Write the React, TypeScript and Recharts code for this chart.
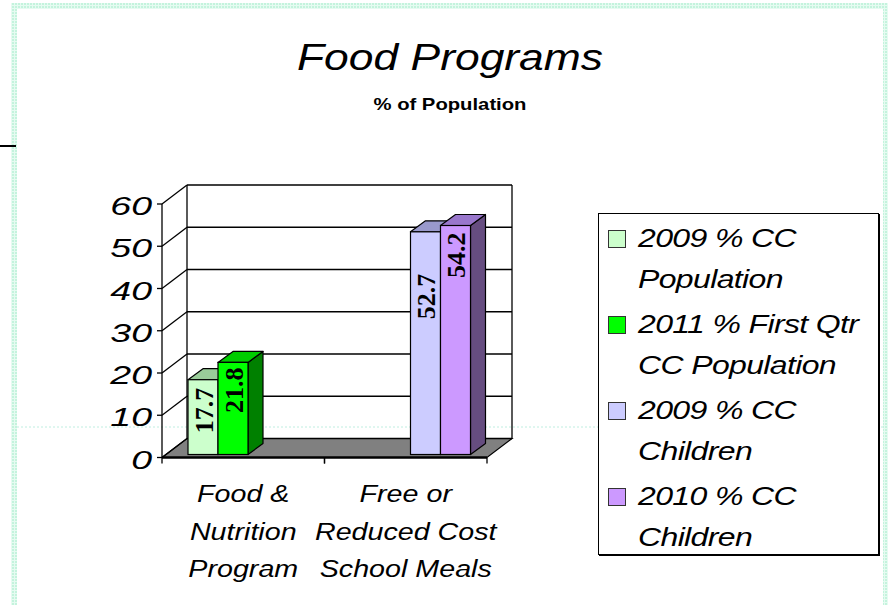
import React from "react";
import { BarChart, Bar, XAxis, YAxis, CartesianGrid, Legend, LabelList } from "recharts";

// ---------- data ----------
const categories = ["Food & Nutrition Program", "Free or Reduced Cost School Meals"];
const categoryLabelLines = [
  ["Food &", "Nutrition", "Program"],
  ["Free or", "Reduced Cost", "School Meals"],
];
const seriesNames = [
  "2009 % CC Population",
  "2011 % First Qtr CC Population",
  "2009 % CC Children",
  "2010 % CC Children",
];
const population2009 = [17.7, null];
const population2011Q1 = [21.8, null];
const children2009 = [null, 52.7];
const children2010 = [null, 54.2];
const yTicks = [0, 10, 20, 30, 40, 50, 60];

const seriesValues = [population2009, population2011Q1, children2009, children2010];
const seriesKeys = ["s0", "s1", "s2", "s3"];
const data = categories.map((name, i) => {
  const row: any = { name };
  seriesKeys.forEach((k, j) => {
    row[k] = seriesValues[j][i];
  });
  return row;
});

// ---------- styles / layout ----------
const seriesColors = [
  { front: "#CCFFCC", top: "#99CC99", side: "#669966" },
  { front: "#00FF00", top: "#00CC00", side: "#008000" },
  { front: "#CCCCFF", top: "#9999CC", side: "#666699" },
  { front: "#CC99FF", top: "#9977CC", side: "#664D80" },
];
const labelInset = [8, 5, 42, 7];

const W = 888;
const H = 605;
const PLOT = { left: 162, right: 487, top: 204, bottom: 457.5 };
const Y_AXIS_W = 60;
const X_AXIS_H = 130;
const WALL_DX = 25;
const WALL_DY = 19;
const BAR_DX = 4;
const BAR_DY = 3;
const BAR_DEPTH_X = 15;
const BAR_DEPTH_Y = 11;
const HALF_BAND = (PLOT.right - PLOT.left) / categories.length / 2;
const FONT = "'Liberation Sans', Arial, sans-serif";
const SERIF = "'Liberation Serif', 'Times New Roman', serif";

const makeBarShape = (si: number) => (props: any) => {
  const { x, y, width, height } = props;
  if (height == null || !(height > 0.5) || x == null) return <g />;
  const c = seriesColors[si];
  const fx = x + BAR_DX;
  const fy = y - BAR_DY;
  const w = width;
  const h = height;
  const top = `${fx},${fy} ${fx + BAR_DEPTH_X},${fy - BAR_DEPTH_Y} ${fx + w + BAR_DEPTH_X},${fy - BAR_DEPTH_Y} ${fx + w},${fy}`;
  const side = `${fx + w},${fy} ${fx + w + BAR_DEPTH_X},${fy - BAR_DEPTH_Y} ${fx + w + BAR_DEPTH_X},${fy + h - BAR_DEPTH_Y} ${fx + w},${fy + h}`;
  return (
    <g>
      <polygon points={side} fill={c.side} stroke="#000" strokeWidth={1.2} strokeLinejoin="round" />
      <polygon points={top} fill={c.top} stroke="#000" strokeWidth={1.2} strokeLinejoin="round" />
      <rect x={fx} y={fy} width={w} height={h} fill={c.front} stroke="#000" strokeWidth={1.2} />
    </g>
  );
};

const makeLabel = (si: number) => (props: any) => {
  const vb = props.viewBox && props.x == null ? props.viewBox : props;
  const { x, y, width } = vb;
  const value = props.value;
  if (value == null || x == null) return null;
  const cx = x + BAR_DX + width / 2 + 9.5;
  const ty = y - BAR_DY + labelInset[si];
  return (
    <text
      transform={`translate(${cx},${ty}) rotate(-90)`}
      textAnchor="end"
      fontFamily={SERIF}
      fontWeight="bold"
      fontSize={26}
      fill="#000"
    >
      {value}
    </text>
  );
};

const YTick = (props: any) => {
  const { x, y, payload } = props;
  return (
    <g>
      <line x1={x - 5} y1={y} x2={x} y2={y} stroke="#000" strokeWidth={1.3} />
      <text
        transform={`translate(${x - 10},${y + 11}) scale(1.5,1)`}
        textAnchor="end"
        fontFamily={FONT}
        fontStyle="italic"
        fontSize={25}
        fill="#000"
      >
        {payload.value}
      </text>
    </g>
  );
};

const XTick = (props: any) => {
  const { x, y, index, payload } = props;
  const lines = categoryLabelLines[index] ?? [String(payload?.value ?? "")];
  const baselines = [44.5, 82, 119.5];
  return (
    <g>
      <line x1={x - HALF_BAND} y1={y} x2={x - HALF_BAND} y2={y + 6} stroke="#000" strokeWidth={1.3} />
      <line x1={x + HALF_BAND} y1={y} x2={x + HALF_BAND} y2={y + 6} stroke="#000" strokeWidth={1.3} />
      {lines.map((ln: string, i: number) => (
        <text
          key={i}
          transform={`translate(${x},${y + baselines[i]}) scale(1.22,1)`}
          textAnchor="middle"
          fontFamily={FONT}
          fontStyle="italic"
          fontSize={23.5}
          fill="#000"
        >
          {ln}
        </text>
      ))}
    </g>
  );
};

const renderGridLine = (props: any) => {
  const { x1, x2, y1, index } = props;
  let top: number;
  let bottom: number;
  if (typeof props.y === "number" && typeof props.height === "number") {
    top = props.y;
    bottom = props.y + props.height;
  } else if (Array.isArray(props.horizontalPoints) && props.horizontalPoints.length) {
    top = Math.min(...props.horizontalPoints);
    bottom = Math.max(...props.horizontalPoints);
  } else {
    top = PLOT.top;
    bottom = PLOT.bottom;
  }
  const isBottom = Math.abs(y1 - bottom) < 0.75;
  return (
    <g key={`gl-${index}`}>
      {isBottom && (
        <g>
          <polygon
            points={`${x1},${bottom} ${x2},${bottom} ${x2 + WALL_DX},${bottom - WALL_DY} ${x1 + WALL_DX},${bottom - WALL_DY}`}
            fill="#808080"
            stroke="#000"
            strokeWidth={1.2}
          />
          <line x1={x1 + WALL_DX} y1={top - WALL_DY} x2={x1 + WALL_DX} y2={bottom - WALL_DY} stroke="#000" strokeWidth={1.3} />
          <line x1={x2 + WALL_DX} y1={top - WALL_DY} x2={x2 + WALL_DX} y2={bottom - WALL_DY} stroke="#000" strokeWidth={1.3} />
          <line x1={x1} y1={top} x2={x1} y2={bottom} stroke="#000" strokeWidth={1.3} />
          <line x1={x1} y1={bottom} x2={x2} y2={bottom} stroke="#000" strokeWidth={2.5} />
        </g>
      )}
      <line x1={x1 + WALL_DX} y1={y1 - WALL_DY} x2={x2 + WALL_DX} y2={y1 - WALL_DY} stroke="#000" strokeWidth={1.3} />
      <line x1={x1} y1={y1} x2={x1 + WALL_DX} y2={y1 - WALL_DY} stroke="#000" strokeWidth={1.3} />
    </g>
  );
};

const LegendContent = (props: any) => {
  const payload: any[] = [...(props.payload ?? [])];
  payload.sort((a, b) => seriesNames.indexOf(a.value) - seriesNames.indexOf(b.value));
  return (
    <div
      style={{
        boxSizing: "border-box",
        width: 281,
        height: 342,
        border: "1px solid #000",
        boxShadow: "1px 1px 0 #000",
        background: "#fff",
        paddingTop: 4,
        position: "relative",
      }}
    >
      {payload.map((p, i) => {
        const si = seriesNames.indexOf(p.value);
        const color = si >= 0 ? seriesColors[si].front : p.color;
        return (
          <div key={i} style={{ position: "relative", height: 86 }}>
            <div
              style={{
                position: "absolute",
                left: 9,
                top: 11.5,
                width: 16,
                height: 16,
                background: color,
                border: "1px solid #333",
              }}
            />
            <div
              style={{
                position: "absolute",
                left: 39,
                top: 0,
                width: 188,
                fontFamily: FONT,
                fontStyle: "italic",
                fontSize: 25,
                lineHeight: "41px",
                letterSpacing: "-0.5px",
                transform: "scaleX(1.28)",
                transformOrigin: "left top",
                color: "#000",
                textAlign: "left",
              }}
            >
              {p.value}
            </div>
          </div>
        );
      })}
    </div>
  );
};

export default function App() {
  return (
    <div style={{ position: "absolute", left: 0, top: 0, width: W, height: H, background: "#fff", overflow: "hidden" }}>
      <svg width={W} height={H} style={{ position: "absolute", left: 0, top: 0 }}>
        <defs>
          <pattern id="mint" width="3" height="3" patternUnits="userSpaceOnUse">
            <rect width="3" height="3" fill="#e6fbf1" />
            <rect width="2" height="2" fill="#c4f3dd" />
          </pattern>
        </defs>
        {/* slide frame */}
        <rect x={11} y={3} width={W - 11} height={6} fill="url(#mint)" />
        <rect x={11} y={3} width={6} height={H - 3} fill="url(#mint)" />
        <rect x={883} y={3} width={5} height={H - 3} fill="url(#mint)" />
        <line x1={17} y1={427} x2={883} y2={427} stroke="#bfeee0" strokeWidth={1} strokeDasharray="2 2" />
        <line x1={0} y1={146} x2={16} y2={146} stroke="#000" strokeWidth={2} />
        <text
          x={450}
          y={70}
          textAnchor="middle"
          fontFamily={FONT}
          fontStyle="italic"
          fontSize={36}
          textLength={306}
          lengthAdjust="spacingAndGlyphs"
          fill="#000"
        >
          Food Programs
        </text>
        <text
          x={450}
          y={110}
          textAnchor="middle"
          fontFamily={FONT}
          fontWeight="bold"
          fontSize={17}
          textLength={153}
          lengthAdjust="spacingAndGlyphs"
          fill="#000"
        >
          % of Population
        </text>
      </svg>
      <div style={{ position: "absolute", left: 0, top: 0 }}>
        <BarChart
          width={W}
          height={H}
          data={data}
          margin={{
            top: PLOT.top,
            left: PLOT.left - Y_AXIS_W,
            right: W - PLOT.right,
            bottom: H - PLOT.bottom - X_AXIS_H,
          }}
          barCategoryGap={22}
          barGap={0}
        >
          <CartesianGrid vertical={false} horizontal={renderGridLine} fill="none" />
          <XAxis
            dataKey="name"
            height={X_AXIS_H}
            axisLine={false}
            tickLine={false}
            tickSize={0}
            tickMargin={0}
            interval={0}
            tick={XTick}
          />
          <YAxis
            width={Y_AXIS_W}
            domain={[0, 60]}
            ticks={yTicks}
            axisLine={false}
            tickLine={false}
            tickSize={0}
            tickMargin={0}
            tick={YTick}
          />
          <Legend
            layout="horizontal"
            verticalAlign="middle"
            align="center"
            wrapperStyle={{ position: "absolute", left: 598, top: 213, width: 281, height: 342 }}
            content={LegendContent}
          />
          {seriesKeys.map((k, i) => (
            <Bar
              key={k}
              dataKey={k}
              name={seriesNames[i]}
              fill={seriesColors[i].front}
              isAnimationActive={false}
              shape={makeBarShape(i)}
            >
              <LabelList dataKey={k} content={makeLabel(i)} />
            </Bar>
          ))}
        </BarChart>
      </div>
    </div>
  );
}
